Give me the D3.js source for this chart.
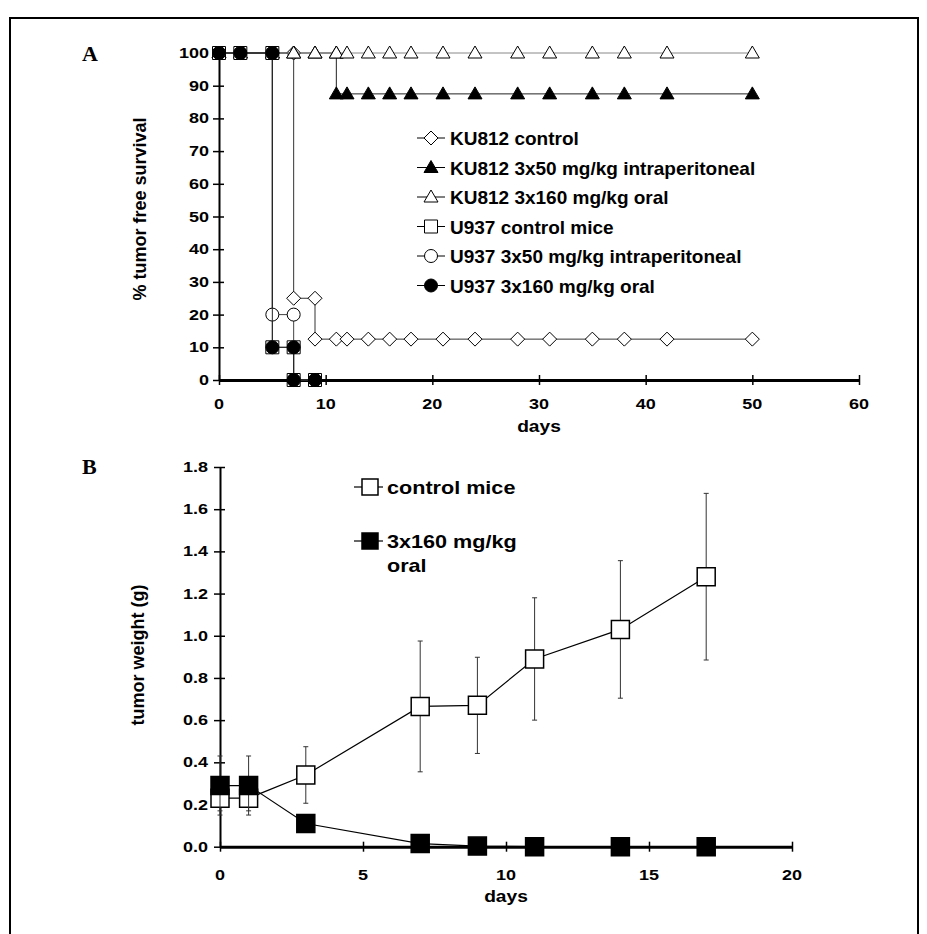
<!DOCTYPE html>
<html>
<head>
<meta charset="utf-8">
<script src="https://cdn.jsdelivr.net/npm/d3@7"></script>
<style>
  body { margin: 0; background: #fff; }
  text { font-family: "Liberation Sans", Arial, sans-serif; font-weight: bold; fill: #000; }
</style>
</head>
<body>
<div id="plot"></div>
<script>
// ---- panel A : tumor free survival (days / %) ----
var kuCtrlDays = [0, 2, 5, 7, 7, 9, 9, 11, 12, 14, 16, 18, 21, 24, 28, 31, 35, 38, 42, 50];
var kuCtrlSurv = [100, 100, 100, 100, 25, 25, 12.5, 12.5, 12.5, 12.5, 12.5, 12.5, 12.5, 12.5, 12.5, 12.5, 12.5, 12.5, 12.5, 12.5];
var kuIpDays = [0, 2, 5, 7, 9, 11, 11, 12, 14, 16, 18, 21, 24, 28, 31, 35, 38, 42, 50];
var kuIpSurv = [100, 100, 100, 100, 100, 100, 87.5, 87.5, 87.5, 87.5, 87.5, 87.5, 87.5, 87.5, 87.5, 87.5, 87.5, 87.5, 87.5];
var kuOralDays = [0, 2, 5, 7, 9, 11, 12, 14, 16, 18, 21, 24, 28, 31, 35, 38, 42, 50];
var kuOralSurv = [100, 100, 100, 100, 100, 100, 100, 100, 100, 100, 100, 100, 100, 100, 100, 100, 100, 100];
var uCtrlDays = [0, 2, 5, 5, 7, 7, 9];
var uCtrlSurv = [100, 100, 100, 10, 10, 0, 0];
var uIpDays = [0, 2, 5, 5, 7, 7, 9];
var uIpSurv = [100, 100, 100, 20, 20, 0, 0];
var uOralDays = [0, 2, 5, 5, 7, 7, 9];
var uOralSurv = [100, 100, 100, 10, 10, 0, 0];
var survLabels = ["KU812 control", "KU812 3x50 mg/kg intraperitoneal", "KU812 3x160 mg/kg oral",
                  "U937 control mice", "U937 3x50 mg/kg intraperitoneal", "U937 3x160 mg/kg oral"];
var survXTicks = [0, 10, 20, 30, 40, 50, 60];
var survYTicks = [0, 10, 20, 30, 40, 50, 60, 70, 80, 90, 100];

// ---- panel B : tumor weight (days / g) ----
var weightDays = [0, 1, 3, 7, 9, 11, 14, 17];
var ctrlWeight = [0.23, 0.23, 0.34, 0.665, 0.67, 0.89, 1.03, 1.28];
var ctrlSd = [0.06, 0.06, 0.134, 0.31, 0.228, 0.29, 0.326, 0.395];
var oralWeight = [0.29, 0.29, 0.11, 0.015, 0.003, 0, 0, 0];
var oralSd = [0.14, 0.14, 0.04, 0.005, 0, 0, 0, 0];
var weightLabels = ["control mice", "3x160 mg/kg", "oral"];
var weightXTicks = [0, 5, 10, 15, 20];
var weightYTicks = [0, 0.2, 0.4, 0.6, 0.8, 1.0, 1.2, 1.4, 1.6, 1.8];

var svg = d3.select("#plot")
            .append("svg")
            .attr("width", 927)
            .attr("height", 934);

var shapes = {
    diamond: "M0,-7L7,0L0,7L-7,0Z",
    triangle: "M0,-7L7,5L-7,5Z",
    square: "M-6.5,-6.5h13v13h-13Z",
    circle: "M6.5,0A6.5,6.5 0 1,1 -6.5,0A6.5,6.5 0 1,1 6.5,0Z",
    bigSquare: "M-9,-9h18v18h-18Z"
};

// frame round the whole figure
svg.append("rect")
    .attr("x", 10).attr("y", 18)
    .attr("width", 908).attr("height", 940)
    .style("fill", "none").style("stroke", "#000").style("stroke-width", 2);

// stretched text, the scan's labels are a bit wider than Arial
function wideText(g, x, y, str, size, anchor) {
    return g.append("text")
        .attr("transform", "translate(" + x + "," + y + ") scale(1.2,1)")
        .attr("text-anchor", anchor)
        .style("font-size", size + "px")
        .text(str);
}

function styleAxis(g, isX) {
    g.select(".domain").style("stroke", "#000").style("stroke-width", isX ? 3 : 2);
    g.selectAll(".tick line").style("stroke", "#000").style("stroke-width", 1.5);
    if (isX) {
        g.selectAll(".tick line").attr("y1", -5).attr("y2", 5);
    } else {
        g.selectAll(".tick line").attr("x1", 5).attr("x2", -6);
    }
    g.selectAll(".tick text").remove();
}

// ================= panel A =================
var xA = d3.scaleLinear().domain([0, 60]).range([219, 859]),
    yA = d3.scaleLinear().domain([0, 100]).range([380, 53]);

var g_a = svg.append("g");

g_a.append("text")
    .attr("x", 82).attr("y", 61)
    .style("font-family", "'Liberation Serif', 'Times New Roman', serif")
    .style("font-size", "22px")
    .text("A");

var g_ax = g_a.append("g")
    .attr("transform", "translate(0," + yA(0) + ")")
    .call(d3.axisBottom(xA).tickValues(survXTicks).tickSizeOuter(0));
styleAxis(g_ax, true);
survXTicks.forEach(function(t){ wideText(g_a, xA(t), 409, t, 15, "middle"); });

var g_ay = g_a.append("g")
    .attr("transform", "translate(" + xA(0) + ",0)")
    .call(d3.axisLeft(yA).tickValues(survYTicks).tickSizeOuter(0));
styleAxis(g_ay, false);
survYTicks.forEach(function(t){ wideText(g_a, 209, yA(t) + 5, t, 15, "end"); });

wideText(g_a, xA(30), 432, "days", 16, "middle");
g_a.append("text")
    .attr("transform", "translate(146,209) rotate(-90)")
    .attr("text-anchor", "middle")
    .style("font-size", "18px")
    .text("% tumor free survival");

var seriesA = [
    {days: kuCtrlDays, vals: kuCtrlSurv, shape: "diamond", fill: "#fff", line: "#333"},
    {days: kuIpDays, vals: kuIpSurv, shape: "triangle", fill: "#000", line: "#222"},
    {days: kuOralDays, vals: kuOralSurv, shape: "triangle", fill: "#fff", line: "#888"},
    {days: uCtrlDays, vals: uCtrlSurv, shape: "square", fill: "#fff", line: "#444"},
    {days: uIpDays, vals: uIpSurv, shape: "circle", fill: "#fff", line: "#444"},
    {days: uOralDays, vals: uOralSurv, shape: "circle", fill: "#000", line: "#222"}
];

var lineA = d3.line()
    .x(function(d){ return xA(d[0]); })
    .y(function(d){ return yA(d[1]); });

seriesA.forEach(function(s){
    var pts = s.days.map(function(d, i){ return [d, s.vals[i]]; });
    g_a.append("path")
        .datum(pts)
        .attr("d", lineA)
        .style("fill", "none")
        .style("stroke", s.line)
        .style("stroke-width", 1);
    g_a.selectAll(null)
        .data(pts)
        .enter().append("path")
        .attr("transform", function(d){ return "translate(" + xA(d[0]) + "," + yA(d[1]) + ")"; })
        .attr("d", shapes[s.shape])
        .style("fill", s.fill)
        .style("stroke", "#000")
        .style("stroke-width", 1);
});

// legend A
var legA = g_a.selectAll(".legA")
    .data(seriesA)
    .enter().append("g")
    .attr("class", "legA")
    .attr("transform", function(d, i){ return "translate(431," + (138 + i * 29.5) + ")"; });
legA.append("line")
    .attr("x1", -14).attr("x2", 14)
    .style("stroke", "#000").style("stroke-width", 1);
legA.append("path")
    .attr("d", function(d){ return shapes[d.shape]; })
    .style("fill", function(d){ return d.fill; })
    .style("stroke", "#000");
legA.append("text")
    .attr("x", 19).attr("y", 7)
    .style("font-size", "19px")
    .text(function(d, i){ return survLabels[i]; });

// ================= panel B =================
var xB = d3.scaleLinear().domain([0, 20]).range([220, 792]),
    yB = d3.scaleLinear().domain([0, 1.8]).range([846.7, 467]);

var g_b = svg.append("g");

g_b.append("text")
    .attr("x", 82).attr("y", 474)
    .style("font-family", "'Liberation Serif', 'Times New Roman', serif")
    .style("font-size", "22px")
    .text("B");

var g_bx = g_b.append("g")
    .attr("transform", "translate(0," + yB(0) + ")")
    .call(d3.axisBottom(xB).tickValues(weightXTicks).tickSizeOuter(0));
styleAxis(g_bx, true);
weightXTicks.forEach(function(t){ wideText(g_b, xB(t), 880, t, 15, "middle"); });

var g_by = g_b.append("g")
    .attr("transform", "translate(" + xB(0) + ",0)")
    .call(d3.axisLeft(yB).tickValues(weightYTicks).tickSizeOuter(0));
styleAxis(g_by, false);
weightYTicks.forEach(function(t){ wideText(g_b, 208, yB(t) + 5, d3.format(".1f")(t), 15, "end"); });

wideText(g_b, xB(10), 902, "days", 16, "middle");
g_b.append("text")
    .attr("transform", "translate(144,655) rotate(-90)")
    .attr("text-anchor", "middle")
    .style("font-size", "18px")
    .text("tumor weight (g)");

var seriesB = [
    {vals: ctrlWeight, sd: ctrlSd, fill: "#fff"},
    {vals: oralWeight, sd: oralSd, fill: "#000"}
];

var lineB = d3.line()
    .x(function(d){ return xB(d.day); })
    .y(function(d){ return yB(d.v); });

seriesB.forEach(function(s){
    var pts = weightDays.map(function(d, i){ return {day: d, v: s.vals[i], sd: s.sd[i]}; });
    g_b.append("path")
        .datum(pts)
        .attr("d", lineB)
        .style("fill", "none")
        .style("stroke", "#000")
        .style("stroke-width", 1.2);

    var err = g_b.selectAll(null)
        .data(pts.filter(function(d){ return d.sd > 0.01; }))
        .enter().append("g");
    err.append("line")
        .attr("x1", function(d){ return xB(d.day); })
        .attr("x2", function(d){ return xB(d.day); })
        .attr("y1", function(d){ return yB(d.v + d.sd); })
        .attr("y2", function(d){ return yB(Math.max(0, d.v - d.sd)); })
        .style("stroke", "#333").style("stroke-width", 1);
    [1, -1].forEach(function(sign){
        err.append("line")
            .attr("x1", function(d){ return xB(d.day) - 2.5; })
            .attr("x2", function(d){ return xB(d.day) + 2.5; })
            .attr("y1", function(d){ return yB(d.v + sign * d.sd); })
            .attr("y2", function(d){ return yB(d.v + sign * d.sd); })
            .style("stroke", "#333").style("stroke-width", 1);
    });

    g_b.selectAll(null)
        .data(pts)
        .enter().append("path")
        .attr("transform", function(d){ return "translate(" + xB(d.day) + "," + yB(d.v) + ")"; })
        .attr("d", shapes.bigSquare)
        .style("fill", s.fill)
        .style("stroke", "#000")
        .style("stroke-width", 1.5);
});

// legend B
var legB = g_b.selectAll(".legB")
    .data(seriesB)
    .enter().append("g")
    .attr("class", "legB")
    .attr("transform", function(d, i){ return "translate(370," + (i === 0 ? 487 : 541) + ")"; });
legB.append("line")
    .attr("x1", -16).attr("x2", 13)
    .style("stroke", "#000").style("stroke-width", 1.2);
legB.append("path")
    .attr("d", "M-8,-8h16v16h-16Z")
    .style("fill", function(d){ return d.fill; })
    .style("stroke", "#000")
    .style("stroke-width", 1.5);
wideText(g_b, 387, 494, weightLabels[0], 18, "start");
wideText(g_b, 387, 548, weightLabels[1], 18, "start");
wideText(g_b, 387, 572, weightLabels[2], 18, "start");
</script>
</body>
</html>
